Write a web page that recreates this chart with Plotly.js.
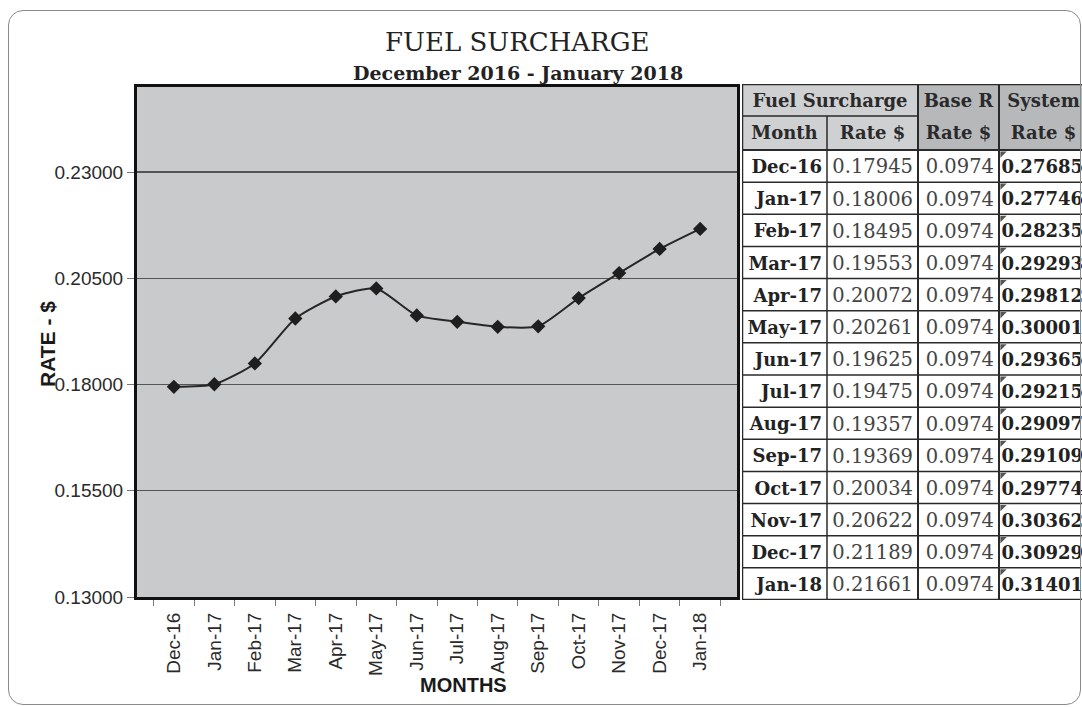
<!DOCTYPE html>
<html>
<head>
<meta charset="utf-8">
<script src="https://cdn.plot.ly/plotly-3.0.1.min.js"></script>
<style>
  html, body { margin: 0; padding: 0; background: #ffffff; overflow: hidden; width: 1082px; height: 707px; }
  #chart { position: absolute; left: 0; top: 0; }
  #frame { position: absolute; left: 8px; top: 10px; width: 1073px; height: 695px;
           border: 1.5px solid #8a8a8a; border-radius: 15px; pointer-events: none; box-sizing: border-box; }
</style>
</head>
<body>
<div id="chart"></div>
<div id="frame"></div>
<script>
// ---- data ----
const months = ['Dec-16','Jan-17','Feb-17','Mar-17','Apr-17','May-17','Jun-17','Jul-17','Aug-17','Sep-17','Oct-17','Nov-17','Dec-17','Jan-18'];
const fuelRate = [0.17945,0.18006,0.18495,0.19553,0.20072,0.20261,0.19625,0.19475,0.19357,0.19369,0.20034,0.20622,0.21189,0.21661];
const baseRate = [0.0974,0.0974,0.0974,0.0974,0.0974,0.0974,0.0974,0.0974,0.0974,0.0974,0.0974,0.0974,0.0974,0.0974];
const systemRate = [0.27685,0.27746,0.28235,0.29293,0.29812,0.30001,0.29365,0.29215,0.29097,0.29109,0.29774,0.30362,0.30929,0.31401];
const yTickVals = [0.13,0.155,0.18,0.205,0.23];
const yTickText = ['0.13000','0.15500','0.18000','0.20500','0.23000'];
const titleText = 'FUEL SURCHARGE';
const subtitleText = 'December 2016 - January 2018';
const xTitle = 'MONTHS';
const yTitle = 'RATE - $';
const headerGroup = ['Fuel Surcharge', 'Base R', 'System'];
const headerSub = ['Month', 'Rate $', 'Rate $', 'Rate $'];

// ---- layout geometry (figure pixels) ----
const W = 1088, H = 707;
const M = {l:137, r:0, t:84, b:107};
const PW = W - M.l - M.r, PH = H - M.t - M.b;
const px = x => (x - M.l) / PW;
const py = y => (H - M.b - y) / PH;

// table grid in table-axis units (1 unit = 1 px), x2 left = 742px, y2 top = 84px
const tblW = 346, tblH = 516;
const colEdges = [0, 85, 176, 257, 346];
const hdrEdges = [0, 32, 66];
const rowH = (tblH - hdrEdges[2]) / months.length;
const rowTop = i => hdrEdges[2] + rowH * i;
const textDrop = 2.5;
const rowMid = i => rowTop(i) + rowH / 2 + textDrop;
const cellPad = 5;

const serif = 'DejaVu Serif, serif';
const sans = 'Liberation Sans, Arial, sans-serif';
const ink = '#2a2a2a';

// ---- chart trace ----
const line = {
  type: 'scatter', mode: 'lines+markers', x: months, y: fuelRate,
  xaxis: 'x', yaxis: 'y',
  line: {color: '#262626', width: 2, shape: 'spline', smoothing: 0.6},
  marker: {symbol: 'diamond', size: 11, color: '#1e1e1e'},
  hoverinfo: 'x+y', showlegend: false
};

// ---- table traces (text placed through the x2/y2 axes) ----
function colText(vals, col, bold, size, color) {
  return {
    type: 'scatter', mode: 'text', xaxis: 'x2', yaxis: 'y2',
    x: vals.map(() => colEdges[col + 1] - cellPad),
    y: vals.map((_, i) => rowMid(i)),
    text: vals.map(v => bold ? '<b>' + v + '</b>' : v),
    textposition: 'middle left',
    textfont: {family: serif, size: size, color: color},
    cliponaxis: false, hoverinfo: 'skip', showlegend: false
  };
}
const tMonths = colText(months, 0, true, 18, '#222');
const tFuel = colText(fuelRate.map(v => v.toFixed(5)), 1, false, 19.5, '#444');
const tBase = colText(baseRate.map(v => v.toFixed(4)), 2, false, 19.5, '#444');
const tSys = colText(systemRate.map(v => v.toFixed(5)), 3, true, 18, '#222');

const mid = (a, b) => (a + b) / 2;
const hdrY1 = mid(hdrEdges[0], hdrEdges[1]) + textDrop;
const hdrY2 = mid(hdrEdges[1], hdrEdges[2]) + textDrop - 1;
const tHeader = {
  type: 'scatter', mode: 'text', xaxis: 'x2', yaxis: 'y2',
  x: [mid(colEdges[0], colEdges[2]), mid(colEdges[2], colEdges[3]), mid(colEdges[3], colEdges[4]),
      mid(colEdges[0], colEdges[1]), mid(colEdges[1], colEdges[2]), mid(colEdges[2], colEdges[3]), mid(colEdges[3], colEdges[4])],
  y: [hdrY1, hdrY1, hdrY1, hdrY2, hdrY2, hdrY2, hdrY2],
  text: headerGroup.concat(headerSub).map(h => '<b>' + h + '</b>'),
  textposition: 'middle center',
  textfont: {family: serif, size: 18, color: '#2a2a2a'},
  cliponaxis: false, hoverinfo: 'skip', showlegend: false
};

// little comment-corner triangles in the System column
const tCorner = {
  type: 'scatter', mode: 'markers', xaxis: 'x2', yaxis: 'y2',
  x: systemRate.map(() => colEdges[3] + 3.5),
  y: systemRate.map((_, i) => rowTop(i) + 3.5),
  marker: {symbol: 'triangle-nw', size: 7, color: '#555'},
  cliponaxis: false, hoverinfo: 'skip', showlegend: false
};

// ---- table fills and rules ----
const shapes = [];
const rect = (x0, x1, y0, y1, fill) => shapes.push({type: 'rect', xref: 'x2', yref: 'y2', x0, x1, y0, y1,
  fillcolor: fill, line: {width: 0}, layer: 'below'});
const rule = (x0, x1, y0, y1, w) => shapes.push({type: 'line', xref: 'x2', yref: 'y2', x0, x1, y0, y1,
  line: {color: ink, width: w || 1.5}});
rect(colEdges[0], colEdges[2], hdrEdges[0], hdrEdges[2], '#cfd0d2');
rect(colEdges[2], colEdges[4], hdrEdges[0], hdrEdges[2], '#b7b8ba');
rect(colEdges[0], colEdges[4], hdrEdges[2], tblH, '#ffffff');
rule(colEdges[0], colEdges[2], hdrEdges[1], hdrEdges[1]);
rule(colEdges[0], colEdges[4], hdrEdges[2], hdrEdges[2], 2);
for (let i = 1; i < months.length; i++) rule(colEdges[0], colEdges[4], rowTop(i), rowTop(i));
rule(colEdges[1], colEdges[1], hdrEdges[1], tblH);
rule(colEdges[2], colEdges[2], hdrEdges[0], tblH, 2);
rule(colEdges[3], colEdges[3], hdrEdges[0], tblH, 2);
shapes.push({type: 'rect', xref: 'x2', yref: 'y2', x0: colEdges[0], x1: colEdges[4], y0: hdrEdges[0], y1: tblH,
  line: {color: ink, width: 2.5}, fillcolor: 'rgba(0,0,0,0)'});

const layout = {
  width: W, height: H,
  margin: {l: M.l, r: M.r, t: M.t, b: M.b, pad: 0},
  paper_bgcolor: '#ffffff',
  plot_bgcolor: '#c9cacc',
  showlegend: false,
  xaxis: {
    domain: [0, px(737)], type: 'category', tickson: 'boundaries',
    ticks: 'outside', ticklen: 6, tickcolor: '#777', tickwidth: 1,
    tickangle: -90, ticklabelstandoff: 5, tickfont: {family: sans, size: 19, color: '#2a2a2a'},
    showline: true, linecolor: '#111', linewidth: 3, mirror: true,
    showgrid: false, zeroline: false, automargin: false, fixedrange: true
  },
  yaxis: {
    domain: [py(597), py(87)], range: [0.13, 0.25],
    tickvals: yTickVals, ticktext: yTickText,
    ticks: 'outside', ticklen: 7, tickcolor: '#777', tickwidth: 1,
    tickfont: {family: sans, size: 19, color: '#2a2a2a'},
    showline: true, linecolor: '#111', linewidth: 3, mirror: true,
    showgrid: true, gridcolor: '#555555', gridwidth: 1.2, zeroline: false, automargin: false, fixedrange: true
  },
  xaxis2: {domain: [px(742), 1], range: [0, tblW], visible: false, fixedrange: true, anchor: 'y2'},
  yaxis2: {domain: [py(600), 1], range: [tblH, 0], visible: false, fixedrange: true, anchor: 'x2'},
  shapes: shapes,
  annotations: [
    {text: titleText, xref: 'paper', yref: 'paper', x: px(517), y: py(42), xanchor: 'center', yanchor: 'middle',
     showarrow: false, font: {family: serif, size: 26, color: '#222'}},
    {text: '<b>' + subtitleText + '</b>', xref: 'paper', yref: 'paper', x: px(518), y: py(73), xanchor: 'center', yanchor: 'middle',
     showarrow: false, font: {family: serif, size: 19, color: '#222'}},
    {text: '<b>' + xTitle + '</b>', xref: 'paper', yref: 'paper', x: px(463), y: py(685), xanchor: 'center', yanchor: 'middle',
     showarrow: false, font: {family: sans, size: 20, color: '#1a1a1a'}},
    {text: '<b>' + yTitle + '</b>', xref: 'paper', yref: 'paper', x: px(47), y: py(344), xanchor: 'center', yanchor: 'middle',
     textangle: -90, showarrow: false, font: {family: sans, size: 21, color: '#1a1a1a'}}
  ]
};

Plotly.newPlot('chart', [line, tCorner, tHeader, tMonths, tFuel, tBase, tSys], layout, {displayModeBar: false, staticPlot: true});
</script>
</body>
</html>
